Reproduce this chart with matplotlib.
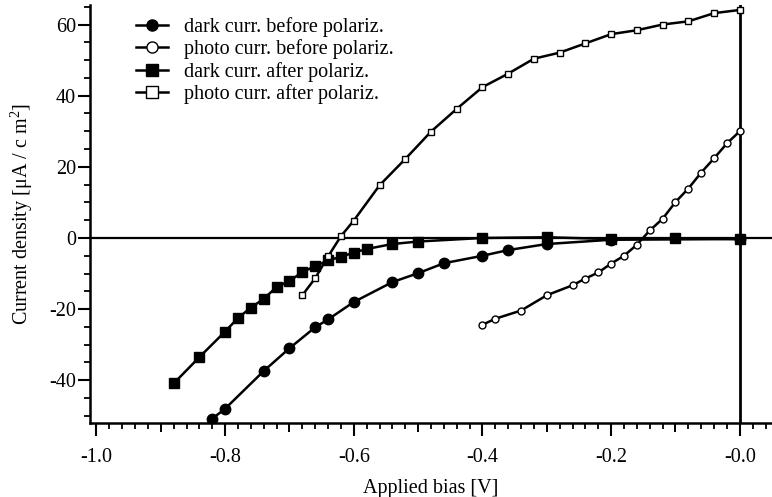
import numpy as np
import matplotlib
matplotlib.use("Agg")
import matplotlib.pyplot as plt
from matplotlib.ticker import MultipleLocator, FixedLocator, FuncFormatter, NullFormatter

plt.rcParams['font.family'] = ['Liberation Serif', 'DejaVu Serif']
plt.rcParams['mathtext.fontset'] = 'custom'
plt.rcParams['mathtext.rm'] = 'Liberation Serif'
plt.rcParams['mathtext.it'] = 'Liberation Serif'
plt.rcParams['axes.unicode_minus'] = False

# dark current before polarization (filled circles)
v_dark_before = [-0.82, -0.80, -0.74, -0.70, -0.66, -0.64, -0.60, -0.54, -0.50,
                 -0.46, -0.40, -0.36, -0.30, -0.20, 0.0]
j_dark_before = [-50.8, -48.0, -37.4, -31.0, -25.1, -22.9, -18.0, -12.4, -9.9,
                 -7.1, -5.0, -3.4, -1.7, -0.5, -0.3]

# photocurrent before polarization (open circles)
v_photo_before = [-0.40, -0.38, -0.34, -0.30, -0.26, -0.24, -0.22, -0.20, -0.18,
                  -0.16, -0.14, -0.12, -0.10, -0.08, -0.06, -0.04, -0.02, 0.0]
j_photo_before = [-24.4, -22.7, -20.4, -16.1, -13.3, -11.4, -9.7, -7.2, -5.0,
                  -1.9, 2.1, 5.4, 10.1, 13.9, 18.4, 22.4, 26.6, 30.0]

# dark current after polarization (filled squares)
v_dark_after = [-0.88, -0.84, -0.80, -0.78, -0.76, -0.74, -0.72, -0.70, -0.68,
                -0.66, -0.64, -0.62, -0.60, -0.58, -0.54, -0.50, -0.40, -0.30,
                -0.20, -0.10, 0.0]
j_dark_after = [-40.9, -33.5, -26.3, -22.5, -19.6, -17.1, -13.8, -12.1, -9.6,
                -7.9, -6.3, -5.3, -4.1, -3.1, -1.7, -1.0, 0.0, 0.2,
                -0.3, -0.1, -0.3]

# photocurrent after polarization (open squares)
v_photo_after = [-0.68, -0.66, -0.64, -0.62, -0.60, -0.56, -0.52, -0.48, -0.44,
                 -0.40, -0.36, -0.32, -0.28, -0.24, -0.20, -0.16, -0.12, -0.08,
                 -0.04, 0.0]
j_photo_after = [-16.1, -11.3, -5.2, 0.5, 4.9, 14.8, 22.2, 29.9, 36.3,
                 42.4, 46.2, 50.4, 52.1, 54.7, 57.3, 58.4, 60.0, 60.9,
                 63.2, 64.1]

labels = ["dark curr. before polariz.", "photo curr. before polariz.",
          "dark curr. after polariz.", "photo curr. after polariz."]

fs = 14.5

fig = plt.figure(figsize=(7.72, 4.97), dpi=100)
ax = fig.add_axes([0.1166, 0.149, 0.8834, 0.841])

lw = 1.8
ax.axhline(0, color='k', lw=1.6, zorder=1)
ax.axvline(0, color='k', lw=2.0, zorder=1)

ax.plot(v_dark_before, j_dark_before, 'k-', marker='o', ms=7.5, lw=lw,
        mfc='k', mec='k', label=labels[0], zorder=3)
ax.plot(v_photo_before, j_photo_before, 'k-', marker='o', ms=5, lw=lw,
        mfc='white', mec='k', mew=1.0, label=labels[1], zorder=3)
ax.plot(v_dark_after, j_dark_after, 'k-', marker='s', ms=7, lw=lw,
        mfc='k', mec='k', label=labels[2], zorder=3)
ax.plot(v_photo_after, j_photo_after, 'k-', marker='s', ms=5, lw=lw,
        mfc='white', mec='k', mew=1.0, label=labels[3], zorder=3)

ax.set_xlim(-1.01, 0.05)
ax.set_ylim(-52, 65.5)

for side in ['top', 'right']:
    ax.spines[side].set_visible(False)
for side in ['left', 'bottom']:
    ax.spines[side].set_linewidth(1.8)

ax.xaxis.set_major_locator(FixedLocator(np.arange(-1.0, 0.01, 0.2)))
ax.xaxis.set_minor_locator(MultipleLocator(0.02))
ax.xaxis.set_major_formatter(FuncFormatter(lambda v, p: "-%.1f" % abs(v)))
ax.yaxis.set_major_locator(MultipleLocator(20))
ax.yaxis.set_minor_locator(MultipleLocator(5))
ax.tick_params(which='major', direction='out', length=9, width=1.5, labelsize=fs)
ax.tick_params(axis='x', which='major', pad=9)
ax.tick_params(axis='y', which='major', pad=1)
ax.tick_params(which='minor', direction='out', length=4.5, width=1.3)

# medium ticks at the odd tenths
sec = ax.secondary_xaxis('bottom')
sec.set_xticks([-0.9, -0.7, -0.5, -0.3, -0.1])
sec.xaxis.set_major_formatter(NullFormatter())
sec.tick_params(direction='out', length=6.5, width=1.4)
sec.spines['bottom'].set_visible(False)

ax.set_xlabel("Applied bias [V]", fontsize=fs, labelpad=9)
ax.set_ylabel("Current density [μA / c m$^{2}$]", fontsize=fs, labelpad=10)

leg = ax.legend(loc='upper left', bbox_to_anchor=(0.05, 1.0), frameon=False,
                fontsize=fs, handlelength=1.6, handletextpad=0.75,
                labelspacing=0.12, borderaxespad=0.2)
for h in leg.legend_handles:
    h.set_markersize(8)

plt.savefig("out.png", dpi=100)
